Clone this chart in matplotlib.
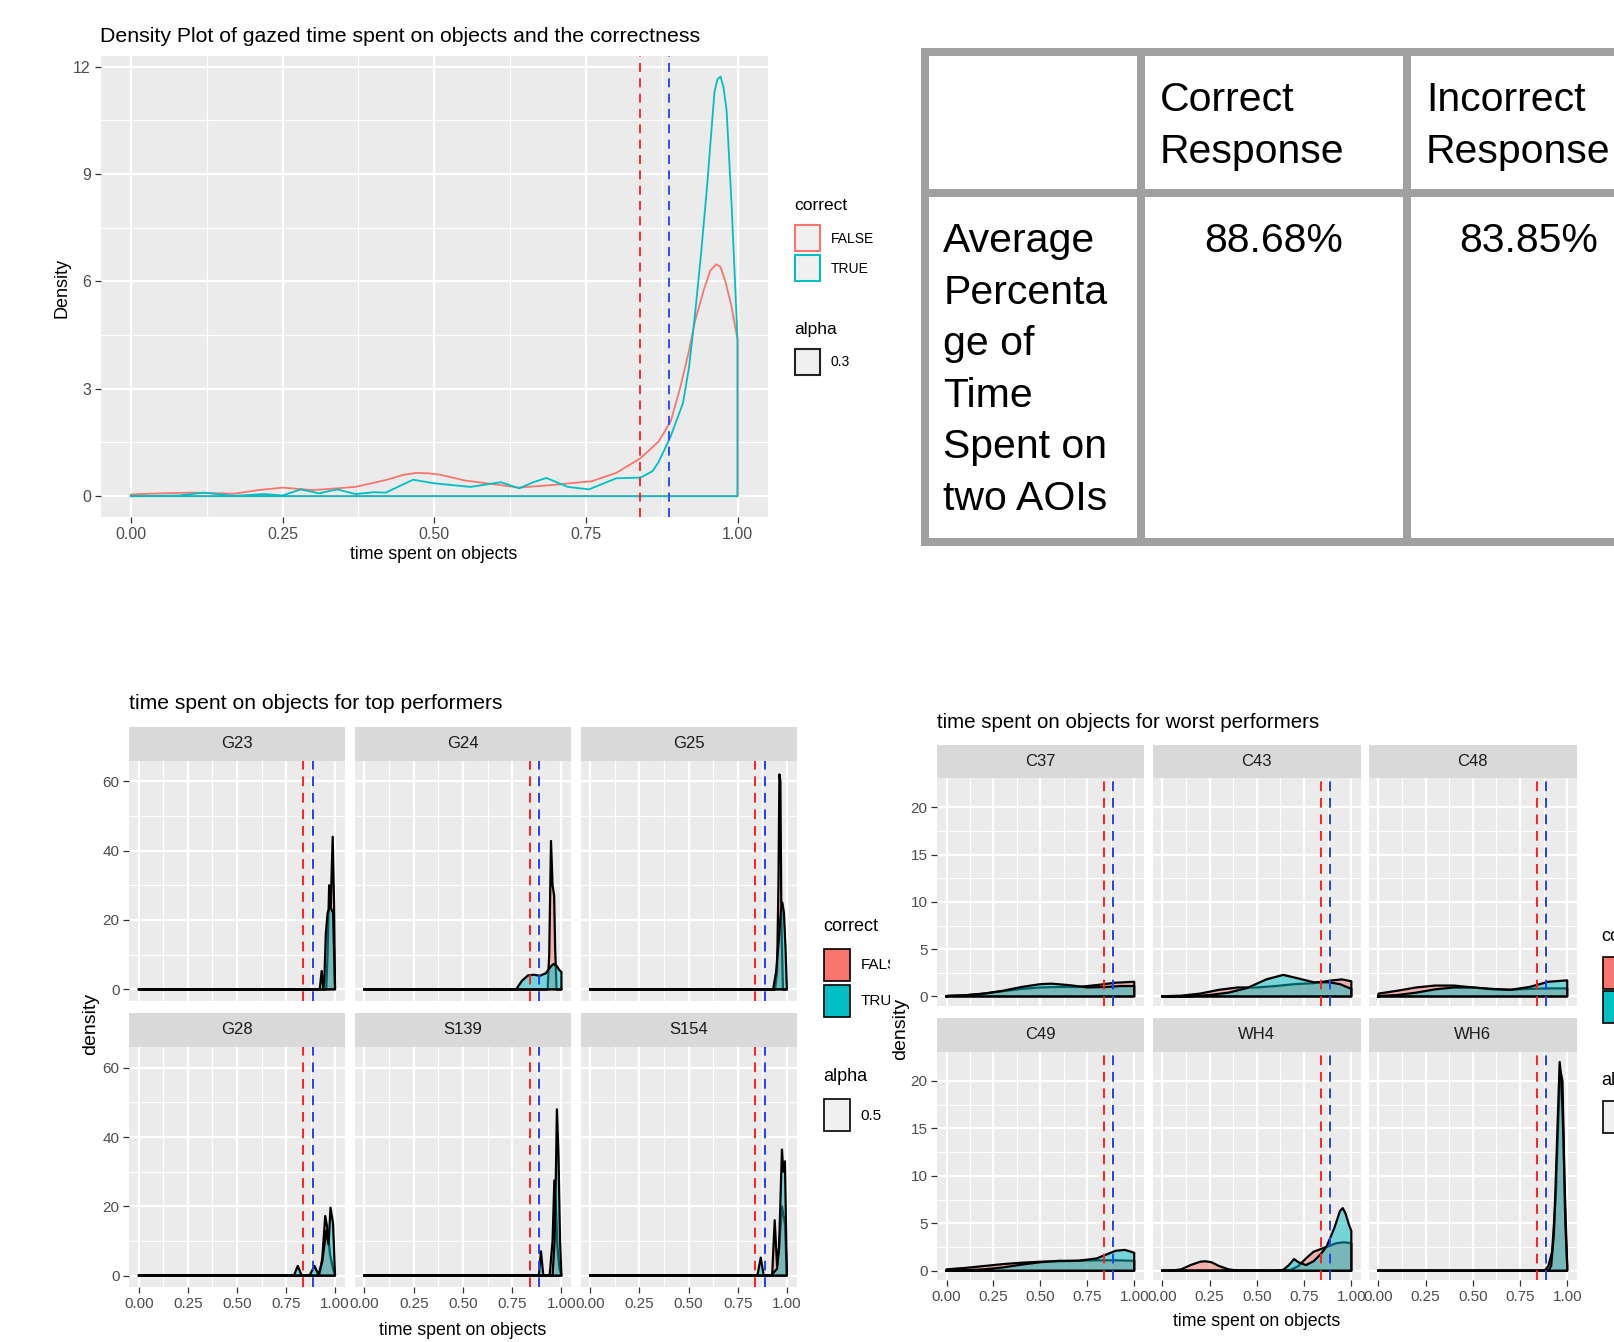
import matplotlib
matplotlib.use('Agg')
import matplotlib.pyplot as plt
from matplotlib.patches import Rectangle
from matplotlib.lines import Line2D

# ---------------- data ----------------
mean_incorrect = 0.8385   # 83.85 %
mean_correct = 0.8868     # 88.68 %

top_false_x = [0.0, 0.05, 0.10, 0.17, 0.21, 0.25, 0.30, 0.37, 0.42, 0.45, 0.47, 0.49, 0.51, 0.55,
               0.60, 0.64, 0.70, 0.76, 0.80, 0.84, 0.87, 0.89, 0.905, 0.92, 0.93, 0.945, 0.955,
               0.965, 0.972, 0.98, 0.99, 1.00]
top_false_y = [0.05, 0.08, 0.10, 0.07, 0.17, 0.24, 0.17, 0.26, 0.45, 0.60, 0.65, 0.64, 0.60, 0.44,
               0.33, 0.24, 0.32, 0.42, 0.65, 1.06, 1.53, 2.10, 3.00, 4.06, 4.90, 5.80, 6.30,
               6.48, 6.40, 6.00, 5.30, 4.37]
top_true_x = [0.0, 0.08, 0.12, 0.17, 0.22, 0.25, 0.28, 0.31, 0.34, 0.37, 0.40, 0.42, 0.445, 0.465,
              0.50, 0.56, 0.61, 0.64, 0.665, 0.685, 0.72, 0.755, 0.80, 0.84, 0.86, 0.87, 0.89,
              0.91, 0.92, 0.93, 0.94, 0.95, 0.955, 0.962, 0.967, 0.972, 0.977, 0.982, 0.99, 1.00]
top_true_y = [0.0, 0.02, 0.10, 0.01, 0.06, 0.02, 0.19, 0.08, 0.19, 0.06, 0.11, 0.10, 0.30, 0.46,
              0.36, 0.26, 0.39, 0.22, 0.40, 0.51, 0.26, 0.19, 0.50, 0.52, 0.70, 0.96, 1.68,
              2.60, 3.60, 5.10, 6.80, 8.70, 9.80, 11.30, 11.65, 11.72, 11.40, 10.76, 8.20, 4.37]

top_x_ticks = [0.0, 0.25, 0.50, 0.75, 1.00]
top_x_labels = ["0.00", "0.25", "0.50", "0.75", "1.00"]
top_y_ticks = [0, 3, 6, 9, 12]

# top performers
best_names = ["G23", "G24", "G25", "G28", "S139", "S154"]
g23_false_x = [0.0, 0.955, 0.962, 0.970, 0.978, 0.988, 0.995, 1.0]
g23_false_y = [0.0, 0.0, 10.0, 30.0, 24.0, 44.0, 25.0, 0.0]
g23_true_x = [0.0, 0.922, 0.932, 0.940, 0.945, 0.953, 0.962, 0.975, 0.990, 1.0]
g23_true_y = [0.0, 0.0, 5.3, 0.5, 2.0, 16.0, 22.0, 24.0, 22.0, 0.0]
g24_false_x = [0.0, 0.930, 0.938, 0.947, 0.955, 0.963, 0.968, 0.975, 1.0]
g24_false_y = [0.0, 0.0, 10.0, 42.8, 30.0, 27.0, 12.0, 0.0, 0.0]
g24_true_x = [0.0, 0.77, 0.80, 0.83, 0.86, 0.89, 0.92, 0.945, 0.96, 0.975, 0.99, 1.0]
g24_true_y = [0.0, 0.0, 2.5, 4.0, 4.2, 3.9, 4.6, 6.5, 7.3, 6.8, 5.5, 5.0]
g25_false_x = [0.0, 0.940, 0.950, 0.957, 0.962, 0.967, 0.972, 0.980, 1.0]
g25_false_y = [0.0, 0.0, 5.0, 30.0, 62.0, 60.0, 20.0, 0.0, 0.0]
g25_true_x = [0.0, 0.930, 0.945, 0.960, 0.970, 0.977, 0.985, 0.993, 1.0]
g25_true_y = [0.0, 0.0, 5.0, 15.0, 23.0, 25.0, 22.0, 12.0, 0.0]
g28_false_x = [0.0, 0.920, 0.935, 0.950, 0.960, 0.975, 0.990, 1.0]
g28_false_y = [0.0, 0.0, 5.0, 17.2, 14.0, 6.0, 2.0, 0.0]
g28_true_x = [0.0, 0.79, 0.81, 0.83, 0.87, 0.895, 0.915, 0.935, 0.955, 0.967, 0.977, 0.99, 1.0]
g28_true_y = [0.0, 0.0, 2.8, 0.0, 0.0, 2.8, 0.3, 4.0, 13.0, 9.0, 19.6, 15.0, 0.0]
s139_false_x = [0.0, 0.940, 0.955, 0.964, 0.972, 0.980, 0.990, 1.0]
s139_false_y = [0.0, 0.0, 10.0, 27.5, 20.0, 8.0, 2.0, 0.0]
s139_true_x = [0.0, 0.885, 0.896, 0.908, 0.955, 0.965, 0.972, 0.977, 0.985, 0.993, 1.0]
s139_true_y = [0.0, 0.0, 7.0, 0.0, 0.0, 10.0, 30.0, 48.0, 35.0, 10.0, 0.0]
s154_false_x = [0.0, 0.925, 0.938, 0.950, 0.960, 0.975, 0.990, 1.0]
s154_false_y = [0.0, 0.0, 16.0, 3.0, 8.0, 20.0, 15.0, 0.0]
s154_true_x = [0.0, 0.850, 0.867, 0.882, 0.920, 0.950, 0.960, 0.975, 0.982, 0.990, 1.0]
s154_true_y = [0.0, 0.0, 5.2, 0.0, 0.0, 2.0, 8.0, 36.4, 30.0, 33.0, 0.0]
best_y_ticks = [0, 20, 40, 60]

# worst performers
worst_names = ["C37", "C43", "C48", "C49", "WH4", "WH6"]
c37_false_x = [0.0, 0.1, 0.2, 0.3, 0.4, 0.5, 0.6, 0.7, 0.8, 0.9, 1.0]
c37_false_y = [0.05, 0.12, 0.30, 0.55, 0.80, 0.95, 1.00, 1.00, 1.20, 1.45, 1.55]
c37_true_x = [0.0, 0.1, 0.2, 0.3, 0.4, 0.5, 0.56, 0.65, 0.75, 0.85, 0.93, 1.0]
c37_true_y = [0.05, 0.12, 0.30, 0.60, 1.00, 1.30, 1.35, 1.20, 0.95, 1.00, 1.10, 1.10]
c43_false_x = [0.0, 0.1, 0.2, 0.3, 0.4, 0.5, 0.6, 0.7, 0.8, 0.9, 0.95, 1.0]
c43_false_y = [0.02, 0.08, 0.30, 0.70, 0.95, 0.95, 1.10, 1.30, 1.40, 1.70, 1.80, 1.60]
c43_true_x = [0.0, 0.15, 0.25, 0.35, 0.45, 0.55, 0.64, 0.72, 0.80, 0.88, 0.94, 1.0]
c43_true_y = [0.0, 0.02, 0.15, 0.40, 0.90, 1.80, 2.28, 1.90, 1.50, 1.50, 1.30, 0.80]
c48_false_x = [0.0, 0.1, 0.2, 0.3, 0.4, 0.5, 0.6, 0.7, 0.8, 0.9, 1.0]
c48_false_y = [0.30, 0.60, 0.95, 1.15, 1.15, 0.95, 0.75, 0.70, 0.80, 0.85, 0.85]
c48_true_x = [0.0, 0.1, 0.2, 0.3, 0.4, 0.5, 0.6, 0.7, 0.8, 0.9, 1.0]
c48_true_y = [0.05, 0.15, 0.40, 0.75, 0.95, 0.95, 0.80, 0.70, 1.00, 1.55, 1.70]
c49_false_x = [0.0, 0.1, 0.2, 0.3, 0.4, 0.5, 0.6, 0.7, 0.8, 0.9, 1.0]
c49_false_y = [0.15, 0.30, 0.50, 0.70, 0.85, 0.95, 1.00, 1.05, 1.10, 1.10, 1.05]
c49_true_x = [0.0, 0.1, 0.2, 0.3, 0.4, 0.5, 0.6, 0.7, 0.8, 0.85, 0.9, 0.95, 1.0]
c49_true_y = [0.03, 0.07, 0.15, 0.35, 0.65, 0.90, 1.05, 1.05, 1.30, 1.70, 2.10, 2.20, 1.90]
wh4_false_x = [0.0, 0.05, 0.10, 0.15, 0.20, 0.227, 0.26, 0.30, 0.35, 0.40, 0.60, 0.68, 0.72, 0.76,
               0.80, 0.84, 0.88, 0.92, 0.96, 1.0]
wh4_false_y = [0.0, 0.02, 0.15, 0.60, 0.95, 1.00, 0.90, 0.50, 0.15, 0.02, 0.0, 0.10, 0.50, 1.30,
               2.00, 2.30, 2.60, 2.90, 3.00, 2.90]
wh4_true_x = [0.0, 0.60, 0.64, 0.67, 0.697, 0.72, 0.76, 0.80, 0.84, 0.87, 0.91, 0.94, 0.955, 0.97,
              0.985, 1.0]
wh4_true_y = [0.0, 0.0, 0.10, 0.60, 1.23, 0.90, 0.60, 1.00, 1.80, 2.60, 4.50, 6.30, 6.60, 6.00,
              5.00, 4.20]
wh6_false_x = [0.0, 0.88, 0.90, 0.92, 0.94, 0.955, 0.965, 0.975, 0.985, 1.0]
wh6_false_y = [0.0, 0.0, 0.5, 2.0, 8.0, 17.0, 21.0, 20.0, 10.0, 0.5]
wh6_true_x = [0.0, 0.90, 0.915, 0.93, 0.945, 0.96, 0.97, 0.98, 0.99, 1.0]
wh6_true_y = [0.0, 0.0, 0.5, 4.0, 13.0, 22.0, 20.0, 14.0, 5.0, 0.5]
worst_y_ticks = [0, 5, 10, 15, 20]

table_header = ["Correct", "Response", "Incorrect", "Response"]
table_row_label = ["Average", "Percenta", "ge of", "Time", "Spent on", "two AOIs"]
table_values = ["88.68%", "83.85%"]

# ---------------- helpers ----------------
W, H = 1568.0, 1304.0
fig = plt.figure(figsize=(16.14, 13.42), dpi=100)

NARROW = ['Liberation Sans Narrow', 'Liberation Sans', 'DejaVu Sans']
REG = ['Liberation Sans', 'DejaVu Sans']
FALSE_C = '#F8766D'
TRUE_C = '#00BFC4'
GRID_MAJ = 1.6
GRID_MIN = 0.8


def rect(l, t, r, b):
    return [l / W, 1 - b / H, (r - l) / W, (b - t) / H]


def style_panel(ax, ylim, yticks, minor_y, show_x, show_y, fs):
    ax.set_facecolor('#EBEBEB')
    ax.set_xlim(-0.05, 1.05)
    ax.set_ylim(*ylim)
    for s in ax.spines.values():
        s.set_visible(False)
    for v in [0.125, 0.375, 0.625, 0.875]:
        ax.axvline(v, color='white', lw=GRID_MIN, zorder=0.3)
    for v in minor_y:
        ax.axhline(v, color='white', lw=GRID_MIN, zorder=0.3)
    for v in top_x_ticks:
        ax.axvline(v, color='white', lw=GRID_MAJ, zorder=0.4)
    for v in yticks:
        ax.axhline(v, color='white', lw=GRID_MAJ, zorder=0.4)
    ax.set_xticks(top_x_ticks)
    ax.set_xticklabels(top_x_labels, fontfamily=NARROW, fontsize=fs, color='#4D4D4D')
    ax.set_yticks(yticks)
    ax.set_yticklabels([str(v) for v in yticks], fontfamily=NARROW, fontsize=fs, color='#4D4D4D')
    ax.tick_params(axis='x', bottom=show_x, labelbottom=show_x, length=4, width=0.9,
                   color='#333333', pad=3)
    ax.tick_params(axis='y', left=show_y, labelleft=show_y, length=4, width=0.9,
                   color='#333333', pad=3)


def outline(xs, ys):
    px = [xs[0]] + list(xs) + [xs[-1], xs[0]]
    py = [0.0] + list(ys) + [0.0, 0.0]
    return px, py


def draw_filled(ax, xs, ys, col, z):
    px, py = outline(xs, ys)
    ax.fill(px, py, facecolor=col, alpha=0.5, edgecolor='none', zorder=z)
    ax.plot(px, py, color='black', lw=1.6, zorder=z + 0.01, solid_joinstyle='round')


def mean_lines(ax, lw=1.4):
    ax.axvline(mean_incorrect, color='#FF2020', lw=lw, ls=(0, (5, 3.5)), zorder=5)
    ax.axvline(mean_correct, color='#2040FF', lw=lw, ls=(0, (5, 3.5)), zorder=5)


# overlay for free text / table
ov = fig.add_axes([0, 0, 1, 1], zorder=-5)
ov.set_xlim(0, W)
ov.set_ylim(H, 0)
ov.axis('off')

# ---------------- top density chart ----------------
ax = fig.add_axes(rect(97.7, 54.6, 746, 502.5))
style_panel(ax, (-0.585, 12.29), top_y_ticks, [1.5, 4.5, 7.5, 10.5], True, True, 11.5)
fx, fy = outline(top_false_x, top_false_y)
ax.plot(fx, fy, color=FALSE_C, lw=1.3, zorder=2, solid_joinstyle='round')
tx, ty = outline(top_true_x, top_true_y)
ax.plot(tx, ty, color=TRUE_C, lw=1.3, zorder=2.1, solid_joinstyle='round')
mean_lines(ax, 1.3)

ov.text(97, 40.6, "Density Plot of gazed time spent on objects and the correctness",
        fontfamily=NARROW, fontsize=15.3, va='baseline', ha='left', color='black')
ov.text(421.3, 542.7, "time spent on objects", fontfamily=NARROW, fontsize=12.8,
        va='baseline', ha='center')
ov.text(60, 280, "Density", fontfamily=REG, fontsize=13, rotation=90, va='center', ha='center')

# legend (top)
ov.text(772, 200, "correct", fontfamily=REG, fontsize=12.5, va='center', ha='left')
for yk, col, lab in [(219, FALSE_C, "FALSE"), (248, TRUE_C, "TRUE")]:
    ov.add_patch(Rectangle((772.5, yk), 24, 25, facecolor='#F0F0F0', edgecolor=col, lw=1.5))
    ov.text(807, yk + 13, lab, fontfamily=REG, fontsize=10, va='center', ha='left')
ov.text(772, 320, "alpha", fontfamily=REG, fontsize=12.5, va='center', ha='left')
ov.add_patch(Rectangle((772.5, 339), 24, 25, facecolor='#F0F0F0', edgecolor='#222222', lw=1.5))
ov.text(807, 352, "0.3", fontfamily=REG, fontsize=10, va='center', ha='left')

# ---------------- table ----------------
TC = '#A0A0A0'
TLW = 8 * 0.72
tl, tt, tb, tm = 899, 50.5, 527, 187.4
for y in (tt, tm, tb):
    ov.add_line(Line2D([tl, 1600], [y, y], color=TC, lw=TLW, solid_capstyle='projecting'))
for x in (tl, 1108, 1367):
    ov.add_line(Line2D([x, x], [tt, tb], color=TC, lw=TLW, solid_capstyle='projecting'))
TFS = 29.5
ov.text(1126.6, 107.5, table_header[0], fontfamily=REG, fontsize=TFS, va='baseline')
ov.text(1126.6, 158.1, table_header[1], fontfamily=REG, fontsize=TFS, va='baseline')
ov.text(1385.4, 107.5, table_header[2], fontfamily=REG, fontsize=TFS, va='baseline')
ov.text(1385.4, 158.1, table_header[3], fontfamily=REG, fontsize=TFS, va='baseline')
for i, line in enumerate(table_row_label):
    ov.text(916.5, 245.1 + 50.0 * i, line, fontfamily=REG, fontsize=TFS, va='baseline')
ov.text(1237.2, 245.1, table_values[0], fontfamily=REG, fontsize=TFS, va='baseline', ha='center')
ov.text(1484.9, 245.1, table_values[1], fontfamily=REG, fontsize=TFS, va='baseline', ha='center')

# ---------------- facet grids ----------------
best_data = [(g23_false_x, g23_false_y, g23_true_x, g23_true_y),
             (g24_false_x, g24_false_y, g24_true_x, g24_true_y),
             (g25_false_x, g25_false_y, g25_true_x, g25_true_y),
             (g28_false_x, g28_false_y, g28_true_x, g28_true_y),
             (s139_false_x, s139_false_y, s139_true_x, s139_true_y),
             (s154_false_x, s154_false_y, s154_true_x, s154_true_y)]
worst_data = [(c37_false_x, c37_false_y, c37_true_x, c37_true_y),
              (c43_false_x, c43_false_y, c43_true_x, c43_true_y),
              (c48_false_x, c48_false_y, c48_true_x, c48_true_y),
              (c49_false_x, c49_false_y, c49_true_x, c49_true_y),
              (wh4_false_x, wh4_false_y, wh4_true_x, wh4_true_y),
              (wh6_false_x, wh6_false_y, wh6_true_x, wh6_true_y)]


def facet_grid(names, data, cols, rows, ylim, yticks, minor_y):
    for i, name in enumerate(names):
        r, c = divmod(i, 3)
        l, rr = cols[c]
        st, pt, pb = rows[r]
        sax = fig.add_axes(rect(l, st, rr, pt))
        sax.set_facecolor('#D9D9D9')
        sax.set_xticks([]); sax.set_yticks([])
        for s in sax.spines.values():
            s.set_visible(False)
        sax.text(0.5, 0.5, name, transform=sax.transAxes, ha='center', va='center',
                 fontfamily=NARROW, fontsize=12, color='#1A1A1A')
        pax = fig.add_axes(rect(l, pt, rr, pb))
        style_panel(pax, ylim, yticks, minor_y, r == 1, c == 0, 11)
        fxs, fys, txs, tys = data[i]
        draw_filled(pax, fxs, fys, FALSE_C, 2)
        draw_filled(pax, txs, tys, TRUE_C, 2.1)
        mean_lines(pax, 1.4)


facet_grid(best_names, best_data,
           [(125.5, 335), (344.5, 555), (564, 774)],
           [(706, 739, 972.4), (984, 1017.4, 1250.6)],
           (-3.3, 66.0), best_y_ticks, [10, 30, 50])
facet_grid(worst_names, worst_data,
           [(910.5, 1111), (1120, 1322), (1330, 1531.7)],
           [(724, 756, 977.4), (989.5, 1021.8, 1244)],
           (-1.0, 23.1), worst_y_ticks, [2.5, 7.5, 12.5, 17.5])

ov.text(125, 689.2, "time spent on objects for top performers", fontfamily=NARROW,
        fontsize=15.2, va='baseline', ha='left')
ov.text(910, 707.5, "time spent on objects for worst performers", fontfamily=NARROW,
        fontsize=14.8, va='baseline', ha='left')
ov.text(449.7, 1297, "time spent on objects", fontfamily=NARROW, fontsize=12.8,
        va='baseline', ha='center')
ov.text(1221, 1288.4, "time spent on objects", fontfamily=NARROW, fontsize=12.8,
        va='baseline', ha='center')
ov.text(88, 995, "density", fontfamily=REG, fontsize=14, rotation=90, va='center', ha='center')
ov.text(875, 1000, "density", fontfamily=REG, fontsize=14, rotation=90, va='center', ha='center')

# legend of top performers (clipped at the source image edge)
lg = fig.add_axes(rect(790, 870, 864.5, 1120))
lg.set_xlim(790, 864.5)
lg.set_ylim(1120, 870)
lg.axis('off')
lg.text(800, 900, "correct", fontfamily=REG, fontsize=13, va='center', ha='left', clip_on=True)
for yk, col, lab in [(922, FALSE_C, "FALSE"), (957, TRUE_C, "TRUE")]:
    lg.add_patch(Rectangle((801, yk), 25, 31, facecolor=col, edgecolor='black', lw=1.2))
    lg.text(836, yk + 16, lab, fontfamily=REG, fontsize=11, va='center', ha='left', clip_on=True)
lg.text(800, 1046, "alpha", fontfamily=REG, fontsize=13, va='center', ha='left', clip_on=True)
lg.add_patch(Rectangle((801, 1068), 25, 31, facecolor='#F0F0F0', edgecolor='black', lw=1.2))
lg.text(836, 1084, "0.5", fontfamily=REG, fontsize=11, va='center', ha='left', clip_on=True)

# legend of worst performers (cut by the right edge)
ov.text(1556, 910, "correct", fontfamily=REG, fontsize=13, va='center', ha='left')
for yk, col in [(930, FALSE_C), (963, TRUE_C)]:
    ov.add_patch(Rectangle((1557, yk), 25, 31, facecolor=col, edgecolor='black', lw=1.2))
ov.text(1556, 1050, "alpha", fontfamily=REG, fontsize=13, va='center', ha='left')
ov.add_patch(Rectangle((1557, 1070), 25, 31, facecolor='#F0F0F0', edgecolor='black', lw=1.2))

fig.savefig('out.png', dpi=100, facecolor='white')
